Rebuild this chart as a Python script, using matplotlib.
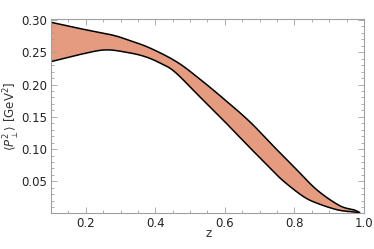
import numpy as np
import matplotlib
matplotlib.use("Agg")
import matplotlib.pyplot as plt
from matplotlib.ticker import MultipleLocator

# Upper and lower edges of the band
z_up = [0.100, 0.178, 0.275, 0.321, 0.384, 0.462, 0.528, 0.600, 0.672,
        0.744, 0.801, 0.864, 0.930, 0.973, 0.987]
p_up = [0.2964, 0.2872, 0.2768, 0.2691, 0.2567, 0.2350, 0.2085, 0.1764,
        0.1423, 0.1022, 0.0713, 0.0372, 0.0125, 0.0056, 0.0017]

z_lo = [0.100, 0.178, 0.255, 0.321, 0.370, 0.413, 0.456, 0.528, 0.600,
        0.672, 0.729, 0.767, 0.824, 0.864, 0.921, 0.959, 0.987]
p_lo = [0.2355, 0.2459, 0.2536, 0.2495, 0.2433, 0.2335, 0.2196, 0.1810,
        0.1423, 0.1022, 0.0713, 0.0512, 0.0272, 0.0164, 0.0063, 0.0032, 0.0017]

x_ticks = [0.2, 0.4, 0.6, 0.8, 1.0]
y_ticks = [0.05, 0.10, 0.15, 0.20, 0.25, 0.30]


def smooth(x, y, n=20):
    # Catmull-Rom through the read points, only for drawing
    x = np.asarray(x, float)
    y = np.asarray(y, float)
    px = np.concatenate([[2 * x[0] - x[1]], x, [2 * x[-1] - x[-2]]])
    py = np.concatenate([[2 * y[0] - y[1]], y, [2 * y[-1] - y[-2]]])
    t = np.linspace(0, 1, n, endpoint=False)
    outx, outy = [], []
    for i in range(1, len(px) - 2):
        for a, o in ((px, outx), (py, outy)):
            p0, p1, p2, p3 = a[i - 1], a[i], a[i + 1], a[i + 2]
            o.extend(0.5 * (2 * p1 + (-p0 + p2) * t
                            + (2 * p0 - 5 * p1 + 4 * p2 - p3) * t ** 2
                            + (-p0 + 3 * p1 - 3 * p2 + p3) * t ** 3))
    outx.append(x[-1])
    outy.append(y[-1])
    return np.array(outx), np.array(outy)


plt.rcParams['font.family'] = ['DejaVu Sans']
fig = plt.figure(figsize=(3.74, 2.49), dpi=100)
ax = fig.add_axes([0.1364, 0.1458, 0.8366, 0.7779])

ux, uy = smooth(z_up, p_up)
lx, ly = smooth(z_lo, p_lo)

# band as a closed polygon
ax.fill(np.concatenate([ux, lx[::-1]]), np.concatenate([uy, ly[::-1]]),
        color='#E49B7F', lw=0)
ax.plot(ux, uy, color='black', lw=1.1)
ax.plot(lx, ly, color='black', lw=1.1)

ax.set_xlim(0.1, 1.0)
ax.set_ylim(0.0015, 0.3015)
ax.set_xticks(x_ticks)
ax.set_xticklabels(['%.1f' % v for v in x_ticks])
ax.set_yticks(y_ticks)
ax.set_yticklabels(['%.2f' % v for v in y_ticks])
ax.xaxis.set_minor_locator(MultipleLocator(0.05))
ax.yaxis.set_minor_locator(MultipleLocator(0.01))

for s in ax.spines.values():
    s.set_color('#A0A0A0')
    s.set_linewidth(0.8)
ax.tick_params(which='both', direction='in', top=True, right=True,
               color='#A0A0A0', width=0.6, labelsize=8.5, labelcolor='#222222')
ax.tick_params(which='major', length=4, pad=3)
ax.tick_params(which='minor', length=2)

ax.set_xlabel('z', fontsize=8.5, color='#333333')
ax.xaxis.set_label_coords(0.504, -0.075)
ax.set_ylabel(r'$\langle P_\perp^2\rangle$ [GeV$^2$]', fontsize=8.5,
              color='#333333')
ax.yaxis.set_label_coords(-0.093, 0.5)

fig.savefig('out.png', dpi=100)
